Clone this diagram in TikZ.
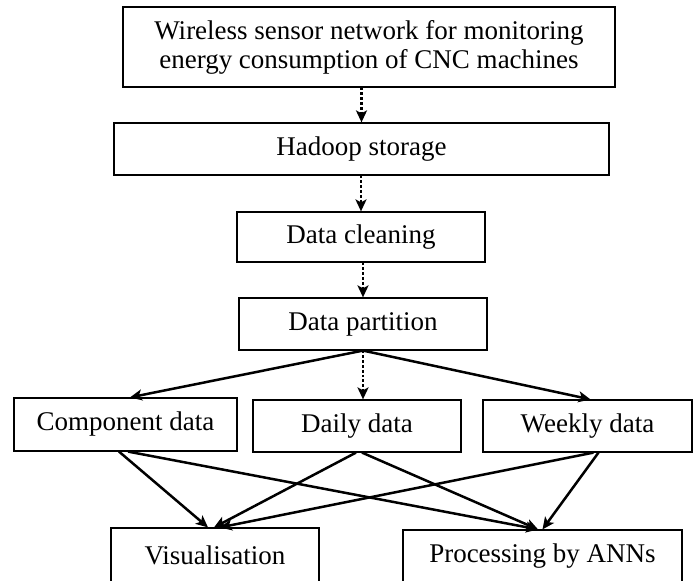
\documentclass[tikz,border=0pt]{standalone}
\usepackage{fontspec}
\setmainfont{Liberation Serif}
\usepackage{tikz}
\usetikzlibrary{positioning,arrows.meta}

\begin{document}
\begin{tikzpicture}[x=0.5pt,y=-0.5pt]
\tikzstyle{block}=[rectangle, draw, line width=0.6pt, inner sep=2pt, align=center, font=\fontsize{13.5}{14.5}\selectfont]
\tikzstyle{flow}=[line width=1.25pt, -{Stealth[length=6pt,width=5.5pt,inset=1.5pt]}]
\tikzstyle{dotflow}=[flow, dash pattern=on 1.4pt off 1pt]
\useasboundingbox (0,0) rectangle (693,581);
% pipeline
\node[block, minimum width=246pt, minimum height=40pt] (wsn) at (369,47) {Wireless sensor network for monitoring\\energy consumption of CNC machines};
\node[block, minimum width=247.5pt, minimum height=26pt] (hadoop) at (361.5,149) {Hadoop storage};
\node[block, minimum width=124pt, minimum height=25pt] (clean) at (361,237) {Data cleaning};
\node[block, minimum width=124pt, minimum height=26pt] (part) at (363,324) {Data partition};
% partitions
\node[block, minimum width=111.5pt, minimum height=26.5pt] (comp) at (125.5,424.5) {Component data};
\node[block, minimum width=104pt, minimum height=26pt] (daily) at (357,426) {Daily data};
\node[block, minimum width=104.5pt, minimum height=26pt] (weekly) at (587.5,426) {Weekly data};
% outputs
\node[block, minimum width=104pt, minimum height=27pt] (vis) at (215,555) {Visualisation};
\node[block, minimum width=139.5pt, minimum height=26.5pt] (proc) at (542.5,556.5) {Processing by ANNs};
\draw[dotflow] (hadoop.north |- wsn.south) -- (hadoop.north);
\draw[dotflow] (clean.north |- hadoop.south) -- (clean.north);
\draw[dotflow] (part.north |- clean.south) -- (part.north);
\draw[dotflow] (part.south) -- (part.south |- daily.north);
\draw[flow] (part.south) -- ([xshift=2.25pt]comp.north);
\draw[flow] (part.south) -- ([xshift=1.5pt]weekly.north);
\foreach \i/\si/\j/\sj in {comp/-3.25/vis/-3.5,comp/1.25/proc/-2.25,daily/-0.5/vis/-0.5,daily/2.5/proc/-2.25,weekly/3/vis/2.5,weekly/5.5/proc/0}{\draw[flow] ([xshift=\si pt]\i.south) -- ([xshift=\sj pt]\j.north);}
\end{tikzpicture}
\end{document}
